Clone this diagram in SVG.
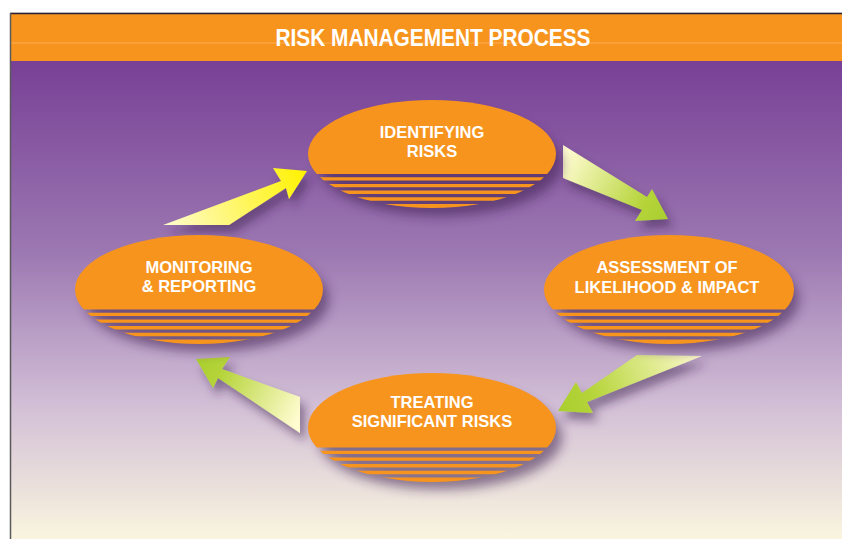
<svg xmlns="http://www.w3.org/2000/svg" width="842" height="539" viewBox="0 0 842 539">
  <style>
    .lbl { font-family: "Liberation Sans", Arial, sans-serif; font-weight: bold; font-size: 16.5px; fill: #ffffff; text-anchor: middle; }
    .title { font-family: "Liberation Sans", Arial, sans-serif; font-weight: bold; font-size: 23px; fill: #ffffff; text-anchor: middle; }
    .disc { fill: #f7941e; }
    .shade { fill: #3a1d4e; opacity: 0.55; filter: url(#soft); }
    .arrow { filter: url(#arrowShadow); }
  </style>
  <defs>
    <linearGradient id="bg" x1="0" y1="61" x2="0" y2="539" gradientUnits="userSpaceOnUse">
      <stop offset="0" stop-color="#784096"/>
      <stop offset="0.4" stop-color="#9c78b2"/>
      <stop offset="0.72" stop-color="#d2bfd6"/>
      <stop offset="1" stop-color="#faf5df"/>
    </linearGradient>
    <filter id="soft" x="-30%" y="-40%" width="160%" height="180%">
      <feGaussianBlur stdDeviation="6"/>
    </filter>
    <filter id="arrowShadow" x="-30%" y="-40%" width="160%" height="180%">
      <feDropShadow dx="5" dy="8" stdDeviation="5" flood-color="#3a1d4e" flood-opacity="0.5"/>
    </filter>
    <!-- solid top, horizontal bands below -->
    <clipPath id="bands" clipPathUnits="userSpaceOnUse">
      <rect x="-130" y="-60" width="260" height="80"/>
      <rect x="-130" y="23.2" width="260" height="3.4"/>
      <rect x="-130" y="29.9" width="260" height="3.4"/>
      <rect x="-130" y="36.6" width="260" height="3.4"/>
      <rect x="-130" y="43.3" width="260" height="3.4"/>
      <rect x="-130" y="50" width="260" height="8"/>
    </clipPath>
    <linearGradient id="gUp" x1="163" y1="225" x2="307" y2="171" gradientUnits="userSpaceOnUse">
      <stop offset="0" stop-color="#fffbd0"/>
      <stop offset="1" stop-color="#fff200"/>
    </linearGradient>
    <linearGradient id="gRight" x1="563" y1="160" x2="668" y2="219" gradientUnits="userSpaceOnUse">
      <stop offset="0" stop-color="#fffcd0"/>
      <stop offset="0.75" stop-color="#b6d43a"/>
      <stop offset="1" stop-color="#a9ce2e"/>
    </linearGradient>
    <linearGradient id="gDown" x1="702" y1="356" x2="558" y2="411" gradientUnits="userSpaceOnUse">
      <stop offset="0" stop-color="#fffcd0"/>
      <stop offset="0.75" stop-color="#b6d43a"/>
      <stop offset="1" stop-color="#a9ce2e"/>
    </linearGradient>
    <linearGradient id="gLeft" x1="300" y1="415" x2="196" y2="359" gradientUnits="userSpaceOnUse">
      <stop offset="0" stop-color="#fffcd0"/>
      <stop offset="0.75" stop-color="#b6d43a"/>
      <stop offset="1" stop-color="#a9ce2e"/>
    </linearGradient>
  </defs>

  <!-- page -->
  <rect x="0" y="0" width="842" height="539" fill="#ffffff"/>
  <rect x="10" y="61" width="832" height="478" fill="url(#bg)"/>
  <rect x="10" y="14" width="832" height="47" fill="#f7941e"/>
  <line x1="10" y1="43" x2="842" y2="43" stroke="#fbac4e" stroke-width="1"/>
  <line x1="10" y1="13.5" x2="842" y2="13.5" stroke="#2a2038" stroke-width="1.5"/>
  <line x1="10" y1="12.5" x2="842" y2="12.5" stroke="#b0b0b0" stroke-width="0.8"/>
  <line x1="10.5" y1="13" x2="10.5" y2="539" stroke="#5a5a5a" stroke-width="1.5"/>
  <text class="title" x="433" y="45.5" textLength="315" lengthAdjust="spacingAndGlyphs">RISK MANAGEMENT PROCESS</text>

  <!-- connectors -->
  <g id="connectors">
    <polygon class="arrow" fill="url(#gUp)" points="163,225 281,181 273,168 307,171 289,199 286,188 229,225"/>
    <polygon class="arrow" fill="url(#gRight)" points="563,145 647,197 652,189 668,219 635,221 642,210 563,178"/>
    <polygon class="arrow" fill="url(#gDown)" points="637,355 582,393 576,382 558,411 593,413 587,402 702,356"/>
    <polygon class="arrow" fill="url(#gLeft)" points="300,397 222,369 230,357 196,359 213,388 218,378 300,433"/>
  </g>

  <!-- nodes -->
  <g id="identifying" transform="translate(432,154)">
    <ellipse class="shade" cx="8" cy="10" rx="122" ry="52"/>
    <ellipse class="disc" cx="0" cy="0" rx="124" ry="54" clip-path="url(#bands)"/>
    <text class="lbl" x="0" y="-16">IDENTIFYING</text>
    <text class="lbl" x="0" y="3">RISKS</text>
  </g>

  <g id="assessment" transform="translate(669,289.5)">
    <ellipse class="shade" cx="8" cy="10" rx="122" ry="52"/>
    <ellipse class="disc" cx="0" cy="0" rx="125" ry="54.5" clip-path="url(#bands)"/>
    <text class="lbl" x="-2" y="-16.5">ASSESSMENT OF</text>
    <text class="lbl" x="-2" y="3.5">LIKELIHOOD &amp; IMPACT</text>
  </g>

  <g id="treating" transform="translate(432,427.5)">
    <ellipse class="shade" cx="8" cy="10" rx="122" ry="52"/>
    <ellipse class="disc" cx="0" cy="0" rx="124" ry="54.5" clip-path="url(#bands)"/>
    <text class="lbl" x="0" y="-20">TREATING</text>
    <text class="lbl" x="0" y="-1">SIGNIFICANT RISKS</text>
  </g>

  <g id="monitoring" transform="translate(199,289.5)">
    <ellipse class="shade" cx="8" cy="10" rx="122" ry="52"/>
    <ellipse class="disc" cx="0" cy="0" rx="124" ry="54.5" clip-path="url(#bands)"/>
    <text class="lbl" x="0" y="-16.5">MONITORING</text>
    <text class="lbl" x="0" y="2.5">&amp; REPORTING</text>
  </g>
</svg>
